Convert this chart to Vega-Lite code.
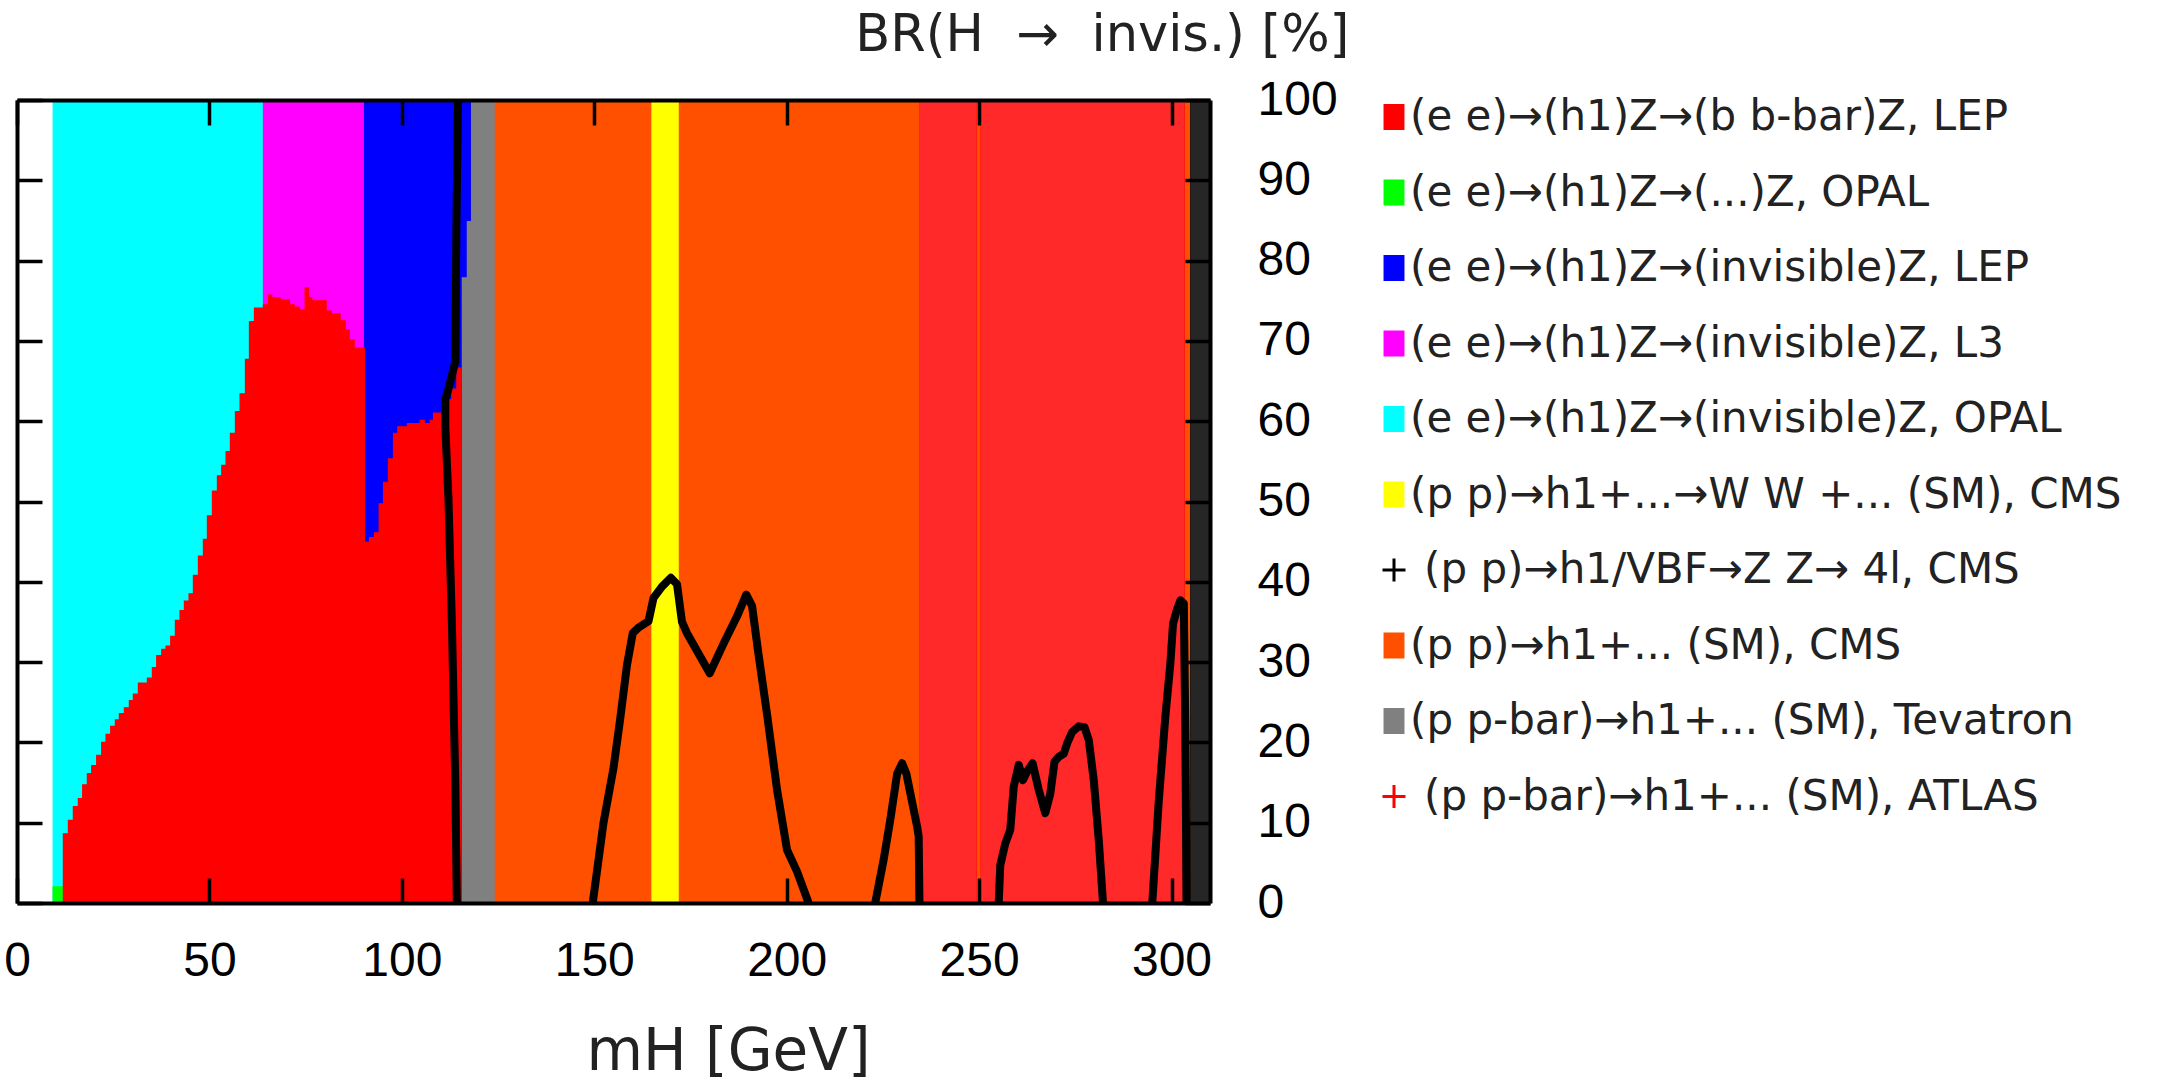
{
  "$schema": "https://vega.github.io/schema/vega-lite/v6.json",
  "width": 1193,
  "height": 803,
  "autosize": {"type": "none"},
  "padding": {"left": 17, "top": 100, "right": 953, "bottom": 182},
  "background": "white",
  "config": {"view": {"stroke": null}},
  "datasets": {
    "solid": [
      {"x": 9.4, "x2": 64.04, "y": 0, "y2": 100, "c": "(e e)→(h1)Z→(invisible)Z, OPAL"},
      {"x": 64.04, "x2": 90.3, "y": 0, "y2": 100, "c": "(e e)→(h1)Z→(invisible)Z, L3"},
      {"x": 115.4, "x2": 124.3, "y": 0, "y2": 100, "c": "(p p-bar)→h1+... (SM), Tevatron"},
      {"x": 90.3, "x2": 115.4, "y": 0, "y2": 100, "c": "(e e)→(h1)Z→(invisible)Z, LEP"},
      {"x": 115.4, "x2": 116.7, "y": 78, "y2": 100, "c": "(e e)→(h1)Z→(invisible)Z, LEP"},
      {"x": 116.7, "x2": 117.8, "y": 85, "y2": 100, "c": "(e e)→(h1)Z→(invisible)Z, LEP"},
      {"x": 124.3, "x2": 234.5, "y": 0, "y2": 100, "c": "(p p)→h1+... (SM), CMS"},
      {"x": 165.0, "x2": 171.8, "y": 0, "y2": 100, "c": "(p p)→h1+...→W W +... (SM), CMS"},
      {"x": 249.5, "x2": 250.3, "y": 0, "y2": 100, "c": "(p p)→h1+... (SM), CMS"},
      {"x": 303.5, "x2": 304.8, "y": 0, "y2": 100, "c": "(p p)→h1+... (SM), CMS"},
      {"x": 9.4, "x2": 12.05, "y": 0, "y2": 2, "c": "(e e)→(h1)Z→(...)Z, OPAL"},
      {"x": 12.05, "x2": 13.35, "y": 0, "y2": 8.6, "c": "(e e)→(h1)Z→(b b-bar)Z, LEP"},
      {"x": 13.35, "x2": 14.64, "y": 0, "y2": 10.3, "c": "(e e)→(h1)Z→(b b-bar)Z, LEP"},
      {"x": 14.64, "x2": 15.94, "y": 0, "y2": 12.0, "c": "(e e)→(h1)Z→(b b-bar)Z, LEP"},
      {"x": 15.94, "x2": 17.07, "y": 0, "y2": 13.0, "c": "(e e)→(h1)Z→(b b-bar)Z, LEP"},
      {"x": 17.07, "x2": 18.28, "y": 0, "y2": 14.7, "c": "(e e)→(h1)Z→(b b-bar)Z, LEP"},
      {"x": 18.28, "x2": 19.41, "y": 0, "y2": 16.1, "c": "(e e)→(h1)Z→(b b-bar)Z, LEP"},
      {"x": 19.41, "x2": 20.71, "y": 0, "y2": 17.1, "c": "(e e)→(h1)Z→(b b-bar)Z, LEP"},
      {"x": 20.71, "x2": 22.01, "y": 0, "y2": 18.4, "c": "(e e)→(h1)Z→(b b-bar)Z, LEP"},
      {"x": 22.01, "x2": 23.14, "y": 0, "y2": 20.0, "c": "(e e)→(h1)Z→(b b-bar)Z, LEP"},
      {"x": 23.14, "x2": 24.35, "y": 0, "y2": 21.0, "c": "(e e)→(h1)Z→(b b-bar)Z, LEP"},
      {"x": 24.35, "x2": 25.56, "y": 0, "y2": 22.0, "c": "(e e)→(h1)Z→(b b-bar)Z, LEP"},
      {"x": 25.56, "x2": 26.6, "y": 0, "y2": 22.8, "c": "(e e)→(h1)Z→(b b-bar)Z, LEP"},
      {"x": 26.6, "x2": 27.9, "y": 0, "y2": 23.6, "c": "(e e)→(h1)Z→(b b-bar)Z, LEP"},
      {"x": 27.9, "x2": 29.2, "y": 0, "y2": 24.3, "c": "(e e)→(h1)Z→(b b-bar)Z, LEP"},
      {"x": 29.2, "x2": 30.24, "y": 0, "y2": 25.2, "c": "(e e)→(h1)Z→(b b-bar)Z, LEP"},
      {"x": 30.24, "x2": 31.54, "y": 0, "y2": 26.0, "c": "(e e)→(h1)Z→(b b-bar)Z, LEP"},
      {"x": 31.54, "x2": 33.88, "y": 0, "y2": 27.4, "c": "(e e)→(h1)Z→(b b-bar)Z, LEP"},
      {"x": 33.88, "x2": 35.18, "y": 0, "y2": 28.0, "c": "(e e)→(h1)Z→(b b-bar)Z, LEP"},
      {"x": 35.18, "x2": 36.31, "y": 0, "y2": 29.3, "c": "(e e)→(h1)Z→(b b-bar)Z, LEP"},
      {"x": 36.31, "x2": 37.61, "y": 0, "y2": 30.8, "c": "(e e)→(h1)Z→(b b-bar)Z, LEP"},
      {"x": 37.61, "x2": 38.73, "y": 0, "y2": 31.6, "c": "(e e)→(h1)Z→(b b-bar)Z, LEP"},
      {"x": 38.73, "x2": 39.95, "y": 0, "y2": 32.0, "c": "(e e)→(h1)Z→(b b-bar)Z, LEP"},
      {"x": 39.95, "x2": 41.16, "y": 0, "y2": 33.2, "c": "(e e)→(h1)Z→(b b-bar)Z, LEP"},
      {"x": 41.16, "x2": 42.37, "y": 0, "y2": 35.2, "c": "(e e)→(h1)Z→(b b-bar)Z, LEP"},
      {"x": 42.37, "x2": 43.5, "y": 0, "y2": 36.4, "c": "(e e)→(h1)Z→(b b-bar)Z, LEP"},
      {"x": 43.5, "x2": 44.71, "y": 0, "y2": 37.6, "c": "(e e)→(h1)Z→(b b-bar)Z, LEP"},
      {"x": 44.71, "x2": 45.84, "y": 0, "y2": 38.5, "c": "(e e)→(h1)Z→(b b-bar)Z, LEP"},
      {"x": 45.84, "x2": 47.14, "y": 0, "y2": 40.8, "c": "(e e)→(h1)Z→(b b-bar)Z, LEP"},
      {"x": 47.14, "x2": 48.44, "y": 0, "y2": 43.2, "c": "(e e)→(h1)Z→(b b-bar)Z, LEP"},
      {"x": 48.44, "x2": 49.48, "y": 0, "y2": 45.3, "c": "(e e)→(h1)Z→(b b-bar)Z, LEP"},
      {"x": 49.48, "x2": 50.78, "y": 0, "y2": 48.2, "c": "(e e)→(h1)Z→(b b-bar)Z, LEP"},
      {"x": 50.78, "x2": 52.08, "y": 0, "y2": 51.3, "c": "(e e)→(h1)Z→(b b-bar)Z, LEP"},
      {"x": 52.08, "x2": 53.21, "y": 0, "y2": 53.2, "c": "(e e)→(h1)Z→(b b-bar)Z, LEP"},
      {"x": 53.21, "x2": 54.33, "y": 0, "y2": 54.5, "c": "(e e)→(h1)Z→(b b-bar)Z, LEP"},
      {"x": 54.33, "x2": 55.46, "y": 0, "y2": 56.2, "c": "(e e)→(h1)Z→(b b-bar)Z, LEP"},
      {"x": 55.46, "x2": 56.76, "y": 0, "y2": 58.5, "c": "(e e)→(h1)Z→(b b-bar)Z, LEP"},
      {"x": 56.76, "x2": 57.97, "y": 0, "y2": 61.2, "c": "(e e)→(h1)Z→(b b-bar)Z, LEP"},
      {"x": 57.97, "x2": 59.36, "y": 0, "y2": 63.4, "c": "(e e)→(h1)Z→(b b-bar)Z, LEP"},
      {"x": 59.36, "x2": 60.4, "y": 0, "y2": 67.7, "c": "(e e)→(h1)Z→(b b-bar)Z, LEP"},
      {"x": 60.4, "x2": 61.7, "y": 0, "y2": 72.4, "c": "(e e)→(h1)Z→(b b-bar)Z, LEP"},
      {"x": 61.7, "x2": 64.04, "y": 0, "y2": 74.1, "c": "(e e)→(h1)Z→(b b-bar)Z, LEP"},
      {"x": 64.04, "x2": 65.34, "y": 0, "y2": 74.5, "c": "(e e)→(h1)Z→(b b-bar)Z, LEP"},
      {"x": 65.34, "x2": 66.2, "y": 0, "y2": 75.7, "c": "(e e)→(h1)Z→(b b-bar)Z, LEP"},
      {"x": 66.2, "x2": 68.37, "y": 0, "y2": 75.4, "c": "(e e)→(h1)Z→(b b-bar)Z, LEP"},
      {"x": 68.37, "x2": 70.8, "y": 0, "y2": 75.1, "c": "(e e)→(h1)Z→(b b-bar)Z, LEP"},
      {"x": 70.8, "x2": 72.01, "y": 0, "y2": 74.5, "c": "(e e)→(h1)Z→(b b-bar)Z, LEP"},
      {"x": 72.01, "x2": 73.4, "y": 0, "y2": 74.2, "c": "(e e)→(h1)Z→(b b-bar)Z, LEP"},
      {"x": 73.4, "x2": 74.87, "y": 0, "y2": 73.9, "c": "(e e)→(h1)Z→(b b-bar)Z, LEP"},
      {"x": 74.87, "x2": 75.74, "y": 0, "y2": 76.6, "c": "(e e)→(h1)Z→(b b-bar)Z, LEP"},
      {"x": 75.74, "x2": 76.6, "y": 0, "y2": 75.4, "c": "(e e)→(h1)Z→(b b-bar)Z, LEP"},
      {"x": 76.6, "x2": 80.33, "y": 0, "y2": 75.0, "c": "(e e)→(h1)Z→(b b-bar)Z, LEP"},
      {"x": 80.33, "x2": 81.63, "y": 0, "y2": 73.7, "c": "(e e)→(h1)Z→(b b-bar)Z, LEP"},
      {"x": 81.63, "x2": 83.97, "y": 0, "y2": 73.4, "c": "(e e)→(h1)Z→(b b-bar)Z, LEP"},
      {"x": 83.97, "x2": 85.27, "y": 0, "y2": 72.5, "c": "(e e)→(h1)Z→(b b-bar)Z, LEP"},
      {"x": 85.27, "x2": 86.31, "y": 0, "y2": 71.4, "c": "(e e)→(h1)Z→(b b-bar)Z, LEP"},
      {"x": 86.31, "x2": 87.61, "y": 0, "y2": 70.1, "c": "(e e)→(h1)Z→(b b-bar)Z, LEP"},
      {"x": 87.61, "x2": 90.3, "y": 0, "y2": 69.1, "c": "(e e)→(h1)Z→(b b-bar)Z, LEP"},
      {"x": 90.3, "x2": 91.6, "y": 0, "y2": 44.9, "c": "(e e)→(h1)Z→(b b-bar)Z, LEP"},
      {"x": 91.6, "x2": 92.9, "y": 0, "y2": 45.5, "c": "(e e)→(h1)Z→(b b-bar)Z, LEP"},
      {"x": 92.9, "x2": 94.11, "y": 0, "y2": 46.1, "c": "(e e)→(h1)Z→(b b-bar)Z, LEP"},
      {"x": 94.11, "x2": 95.24, "y": 0, "y2": 49.7, "c": "(e e)→(h1)Z→(b b-bar)Z, LEP"},
      {"x": 95.24, "x2": 96.53, "y": 0, "y2": 52.4, "c": "(e e)→(h1)Z→(b b-bar)Z, LEP"},
      {"x": 96.53, "x2": 97.83, "y": 0, "y2": 55.3, "c": "(e e)→(h1)Z→(b b-bar)Z, LEP"},
      {"x": 97.83, "x2": 98.96, "y": 0, "y2": 58.5, "c": "(e e)→(h1)Z→(b b-bar)Z, LEP"},
      {"x": 98.96, "x2": 101.47, "y": 0, "y2": 59.3, "c": "(e e)→(h1)Z→(b b-bar)Z, LEP"},
      {"x": 101.47, "x2": 104.77, "y": 0, "y2": 59.7, "c": "(e e)→(h1)Z→(b b-bar)Z, LEP"},
      {"x": 104.77, "x2": 105.81, "y": 0, "y2": 60.1, "c": "(e e)→(h1)Z→(b b-bar)Z, LEP"},
      {"x": 105.81, "x2": 107.37, "y": 0, "y2": 59.7, "c": "(e e)→(h1)Z→(b b-bar)Z, LEP"},
      {"x": 107.37, "x2": 108.23, "y": 0, "y2": 60.1, "c": "(e e)→(h1)Z→(b b-bar)Z, LEP"},
      {"x": 108.23, "x2": 110.4, "y": 0, "y2": 61.0, "c": "(e e)→(h1)Z→(b b-bar)Z, LEP"},
      {"x": 110.4, "x2": 113.0, "y": 0, "y2": 62.7, "c": "(e e)→(h1)Z→(b b-bar)Z, LEP"},
      {"x": 113.0, "x2": 114.3, "y": 0, "y2": 64.0, "c": "(e e)→(h1)Z→(b b-bar)Z, LEP"},
      {"x": 114.3, "x2": 115.4, "y": 0, "y2": 66.6, "c": "(e e)→(h1)Z→(b b-bar)Z, LEP"}
    ],
    "atlas": [
      {"x": 234.5, "x2": 249.5, "y": 0, "y2": 100, "c": "(p p-bar)→h1+... (SM), ATLAS"},
      {"x": 250.3, "x2": 303.5, "y": 0, "y2": 100, "c": "(p p-bar)→h1+... (SM), ATLAS"}
    ],
    "zz": [
      {"x": 304.8, "x2": 310, "y": 0, "y2": 100, "c": "(p p)→h1/VBF→Z Z→ 4l, CMS"}
    ],
    "line": [
      {"seg": 1, "i": 1, "x": 114.6, "y": 100},
      {"seg": 1, "i": 2, "x": 114.2, "y": 85},
      {"seg": 1, "i": 3, "x": 113.9, "y": 67.4},
      {"seg": 1, "i": 4, "x": 113.0, "y": 65.7},
      {"seg": 1, "i": 5, "x": 112.1, "y": 64.0},
      {"seg": 1, "i": 6, "x": 111.3, "y": 62.7},
      {"seg": 1, "i": 7, "x": 111.3, "y": 59.3},
      {"seg": 1, "i": 8, "x": 112.1, "y": 50.5},
      {"seg": 1, "i": 9, "x": 113.0, "y": 35.0},
      {"seg": 1, "i": 10, "x": 113.9, "y": 14.7},
      {"seg": 1, "i": 11, "x": 114.3, "y": 0},
      {"seg": 2, "i": 1, "x": 149.6, "y": 0},
      {"seg": 2, "i": 2, "x": 152.4, "y": 10.0},
      {"seg": 2, "i": 3, "x": 155.0, "y": 16.8},
      {"seg": 2, "i": 4, "x": 156.7, "y": 22.8},
      {"seg": 2, "i": 5, "x": 158.5, "y": 29.6},
      {"seg": 2, "i": 6, "x": 160.0, "y": 33.6},
      {"seg": 2, "i": 7, "x": 161.5, "y": 34.3},
      {"seg": 2, "i": 8, "x": 164.1, "y": 35.1},
      {"seg": 2, "i": 9, "x": 165.4, "y": 38.0},
      {"seg": 2, "i": 10, "x": 167.6, "y": 39.4},
      {"seg": 2, "i": 11, "x": 169.9, "y": 40.5},
      {"seg": 2, "i": 12, "x": 171.5, "y": 39.7},
      {"seg": 2, "i": 13, "x": 172.8, "y": 35.0},
      {"seg": 2, "i": 14, "x": 174.1, "y": 33.6},
      {"seg": 2, "i": 15, "x": 180.0, "y": 28.6},
      {"seg": 2, "i": 16, "x": 183.6, "y": 32.3},
      {"seg": 2, "i": 17, "x": 187.1, "y": 35.7},
      {"seg": 2, "i": 18, "x": 189.5, "y": 38.4},
      {"seg": 2, "i": 19, "x": 191.0, "y": 37.0},
      {"seg": 2, "i": 20, "x": 192.7, "y": 30.9},
      {"seg": 2, "i": 21, "x": 194.9, "y": 23.5},
      {"seg": 2, "i": 22, "x": 197.5, "y": 14.1},
      {"seg": 2, "i": 23, "x": 200.1, "y": 6.6},
      {"seg": 2, "i": 24, "x": 202.7, "y": 3.9},
      {"seg": 2, "i": 25, "x": 205.7, "y": 0},
      {"seg": 3, "i": 1, "x": 223.0, "y": 0},
      {"seg": 3, "i": 2, "x": 225.2, "y": 5.4},
      {"seg": 3, "i": 3, "x": 226.9, "y": 10.3},
      {"seg": 3, "i": 4, "x": 228.7, "y": 16.1},
      {"seg": 3, "i": 5, "x": 230.0, "y": 17.4},
      {"seg": 3, "i": 6, "x": 231.1, "y": 16.1},
      {"seg": 3, "i": 7, "x": 233.9, "y": 9.5},
      {"seg": 3, "i": 8, "x": 234.3, "y": 8.3},
      {"seg": 3, "i": 9, "x": 234.5, "y": 0},
      {"seg": 4, "i": 1, "x": 255.1, "y": 0},
      {"seg": 4, "i": 2, "x": 255.5, "y": 4.7},
      {"seg": 4, "i": 3, "x": 256.8, "y": 7.4},
      {"seg": 4, "i": 4, "x": 258.1, "y": 9.1},
      {"seg": 4, "i": 5, "x": 259.0, "y": 14.5},
      {"seg": 4, "i": 6, "x": 260.3, "y": 17.2},
      {"seg": 4, "i": 7, "x": 261.4, "y": 15.3},
      {"seg": 4, "i": 8, "x": 262.5, "y": 16.4},
      {"seg": 4, "i": 9, "x": 263.9, "y": 17.4},
      {"seg": 4, "i": 10, "x": 265.5, "y": 14.1},
      {"seg": 4, "i": 11, "x": 267.2, "y": 11.2},
      {"seg": 4, "i": 12, "x": 268.5, "y": 13.6},
      {"seg": 4, "i": 13, "x": 269.6, "y": 17.6},
      {"seg": 4, "i": 14, "x": 270.7, "y": 18.2},
      {"seg": 4, "i": 15, "x": 272.0, "y": 18.6},
      {"seg": 4, "i": 16, "x": 272.9, "y": 19.9},
      {"seg": 4, "i": 17, "x": 274.2, "y": 21.3},
      {"seg": 4, "i": 18, "x": 275.9, "y": 22.0},
      {"seg": 4, "i": 19, "x": 277.4, "y": 21.9},
      {"seg": 4, "i": 20, "x": 278.5, "y": 20.3},
      {"seg": 4, "i": 21, "x": 279.8, "y": 15.3},
      {"seg": 4, "i": 22, "x": 281.1, "y": 7.8},
      {"seg": 4, "i": 23, "x": 282.2, "y": 0},
      {"seg": 5, "i": 1, "x": 295.0, "y": 0},
      {"seg": 5, "i": 2, "x": 296.7, "y": 12.8},
      {"seg": 5, "i": 3, "x": 298.4, "y": 23.2},
      {"seg": 5, "i": 4, "x": 299.7, "y": 29.8},
      {"seg": 5, "i": 5, "x": 300.4, "y": 34.8},
      {"seg": 5, "i": 6, "x": 301.4, "y": 36.5},
      {"seg": 5, "i": 7, "x": 302.3, "y": 37.7},
      {"seg": 5, "i": 8, "x": 303.2, "y": 37.3},
      {"seg": 5, "i": 9, "x": 303.6, "y": 21.1},
      {"seg": 5, "i": 10, "x": 303.9, "y": 0}
    ]
  },
  "layer": [
    {
      "data": {"name": "solid"},
      "mark": {"type": "rect", "strokeWidth": 1.2},
      "encoding": {
        "x": {
          "field": "x", "type": "quantitative",
          "scale": {"domain": [0, 310], "nice": false, "zero": false},
          "axis": {
            "orient": "bottom", "values": [0, 50, 100, 150, 200, 250, 300],
            "tickSize": -25, "tickWidth": 3.5, "tickColor": "black",
            "domainColor": "black", "domainWidth": 4,
            "labelFont": "Liberation Sans", "labelFontSize": 48, "labelColor": "black",
            "labelPadding": 59, "labelFlush": false, "labelOverlap": false, "labelBaseline": "top",
            "title": "mH [GeV]", "titleFont": "DejaVu Sans", "titleFontSize": 58,
            "titleFontWeight": "normal", "titleColor": "#222222",
            "titleX": 711, "titleY": 166, "titleAlign": "center", "titleBaseline": "alphabetic",
            "grid": false, "zindex": 1
          }
        },
        "x2": {"field": "x2"},
        "y": {
          "field": "y", "type": "quantitative",
          "scale": {"domain": [0, 100], "nice": false, "zero": false},
          "axis": {
            "orient": "left", "values": [0, 10, 20, 30, 40, 50, 60, 70, 80, 90, 100],
            "labels": false, "tickSize": -25, "tickWidth": 3.5, "tickColor": "black",
            "domainColor": "black", "domainWidth": 4, "title": null, "grid": false, "zindex": 1
          }
        },
        "y2": {"field": "y2"},
        "color": {
          "field": "c", "type": "nominal",
          "scale": {
            "domain": [
              "(e e)→(h1)Z→(b b-bar)Z, LEP",
              "(e e)→(h1)Z→(...)Z, OPAL",
              "(e e)→(h1)Z→(invisible)Z, LEP",
              "(e e)→(h1)Z→(invisible)Z, L3",
              "(e e)→(h1)Z→(invisible)Z, OPAL",
              "(p p)→h1+...→W W +... (SM), CMS",
              "(p p)→h1/VBF→Z Z→ 4l, CMS",
              "(p p)→h1+... (SM), CMS",
              "(p p-bar)→h1+... (SM), Tevatron",
              "(p p-bar)→h1+... (SM), ATLAS"
            ],
            "range": ["#ff0000", "#00ff00", "#0000ff", "#ff00ff", "#00ffff", "#ffff00", "#000000", "#ff5000", "#808080", "#ff0000"]
          },
          "legend": {
            "orient": "none", "legendX": 1356, "legendY": -4,
            "title": null, "padding": 0,
            "labelFont": "DejaVu Sans", "labelFontSize": 42, "labelColor": "#222222",
            "labelLimit": 1000, "labelOffset": -5,
            "symbolSize": 529, "rowPadding": 33.5,
            "encode": {
              "symbols": {
                "update": {
                  "shape": {"signal": "indexof([6, 9], datum.index) >= 0 ? 'M-1,0L1,0M0,-1L0,1' : 'M-0.78,-1L0.78,-1L0.78,1L-0.78,1Z'"},
                  "fill": {"signal": "indexof([6, 9], datum.index) >= 0 ? 'transparent' : scale('color', datum.value)"},
                  "stroke": {"signal": "indexof([6, 9], datum.index) >= 0 ? scale('color', datum.value) : 'transparent'"},
                  "strokeWidth": {"value": 3},
                  "opacity": {"value": 1}
                }
              },
              "labels": {
                "update": {
                  "dx": {"signal": "indexof([6, 9], datum.index) >= 0 ? 14 : 0"}
                }
              }
            }
          }
        },
        "stroke": {
          "field": "c", "type": "nominal",
          "scale": {
            "domain": [
              "(e e)→(h1)Z→(b b-bar)Z, LEP",
              "(e e)→(h1)Z→(...)Z, OPAL",
              "(e e)→(h1)Z→(invisible)Z, LEP",
              "(e e)→(h1)Z→(invisible)Z, L3",
              "(e e)→(h1)Z→(invisible)Z, OPAL",
              "(p p)→h1+...→W W +... (SM), CMS",
              "(p p)→h1/VBF→Z Z→ 4l, CMS",
              "(p p)→h1+... (SM), CMS",
              "(p p-bar)→h1+... (SM), Tevatron",
              "(p p-bar)→h1+... (SM), ATLAS"
            ],
            "range": ["#ff0000", "#00ff00", "#0000ff", "#ff00ff", "#00ffff", "#ffff00", "#000000", "#ff5000", "#808080", "#ff0000"]
          },
          "legend": null
        }
      }
    },
    {
      "data": {"name": "atlas"},
      "mark": {"type": "rect", "fill": "#ff0000", "opacity": 0.84},
      "encoding": {
        "x": {"field": "x", "type": "quantitative", "scale": {"domain": [0, 310], "nice": false, "zero": false}, "axis": null},
        "x2": {"field": "x2"},
        "y": {"field": "y", "type": "quantitative", "scale": {"domain": [0, 100], "nice": false, "zero": false}, "axis": null},
        "y2": {"field": "y2"}
      }
    },
    {
      "data": {"name": "zz"},
      "mark": {"type": "rect", "fill": "#000000", "opacity": 0.85},
      "encoding": {
        "x": {"field": "x", "type": "quantitative", "scale": {"domain": [0, 310], "nice": false, "zero": false}, "axis": null},
        "x2": {"field": "x2"},
        "y": {"field": "y", "type": "quantitative", "scale": {"domain": [0, 100], "nice": false, "zero": false}, "axis": null},
        "y2": {"field": "y2"}
      }
    },
    {
      "data": {"name": "line"},
      "mark": {"type": "line", "color": "black", "strokeWidth": 8, "strokeJoin": "round", "strokeCap": "butt", "clip": true},
      "encoding": {
        "x": {
          "field": "x", "type": "quantitative",
          "scale": {"domain": [0, 310], "nice": false, "zero": false},
          "axis": {
            "orient": "top", "values": [0, 50, 100, 150, 200, 250, 300],
            "labels": false, "tickSize": -25, "tickWidth": 3.5, "tickColor": "black",
            "domainColor": "black", "domainWidth": 4, "title": null, "grid": false, "zindex": 1
          }
        },
        "y": {
          "field": "y", "type": "quantitative",
          "scale": {"domain": [0, 100], "nice": false, "zero": false},
          "axis": {
            "orient": "right", "values": [0, 10, 20, 30, 40, 50, 60, 70, 80, 90, 100],
            "tickSize": -25, "tickWidth": 3.5, "tickColor": "black",
            "domainColor": "black", "domainWidth": 4,
            "labelFont": "Liberation Sans", "labelFontSize": 48, "labelColor": "black",
            "labelPadding": 72, "labelAlign": "left", "labelBaseline": "middle",
            "labelFlush": false, "labelOverlap": false,
            "title": "BR(H\u00a0\u00a0→\u00a0\u00a0invis.) [%]", "titleFont": "DejaVu Sans", "titleFontSize": 51,
            "titleFontWeight": "normal", "titleColor": "#222222", "titleAngle": 0,
            "titleAlign": "right", "titleBaseline": "alphabetic", "titleX": 139, "titleY": -50,
            "grid": false, "zindex": 1
          }
        },
        "detail": {"field": "seg", "type": "nominal"},
        "order": {"field": "i", "type": "quantitative"}
      }
    }
  ],
  "resolve": {"axis": {"x": "independent", "y": "independent"}}
}
